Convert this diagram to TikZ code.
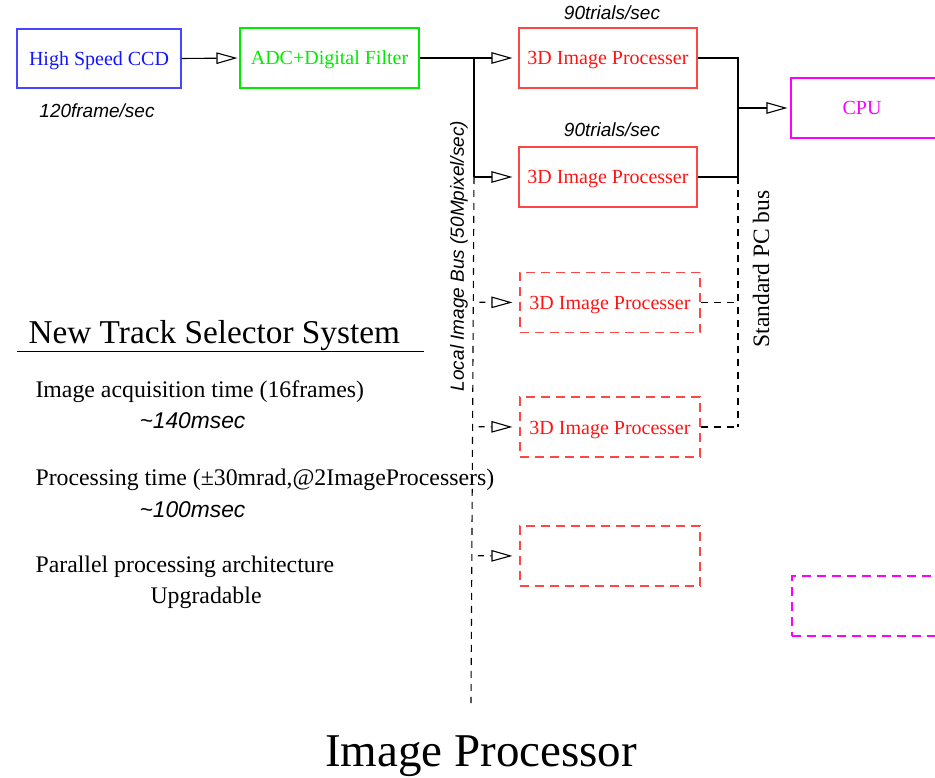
\documentclass[tikz,border=0pt]{standalone}
\usepackage{fontspec}
\setmainfont{Liberation Serif}
\newfontfamily\helv{Liberation Sans}
\usetikzlibrary{arrows.meta,calc}
\newcommand\fsz[1]{\fontsize{#1}{#1}\selectfont}
\definecolor{ccdline}{RGB}{70,70,255}
\definecolor{ccdtext}{RGB}{20,20,255}
\definecolor{adcgreen}{RGB}{0,235,0}
\definecolor{ipline}{RGB}{255,70,70}
\definecolor{iptext}{RGB}{255,20,20}
\definecolor{cpumag}{RGB}{255,0,255}
\begin{document}
\begin{tikzpicture}[x=1pt,y=-1pt,line width=1.1pt,
  unit/.style={draw,inner sep=0pt,minimum height=60pt,text height=14pt,text depth=0pt,font=\fsz{20}},
  ipbox/.style={unit,draw=ipline,text=iptext,minimum width=178pt},
  spare/.style={ipbox,minimum width=180pt,dash pattern=on 9pt off 6pt},
  flow/.style={-{Triangle[open,length=21pt,width=11.5pt]}},
  sparelink/.style={flow,dash pattern=on 6pt off 6pt,dash phase=6pt},
  rate/.style={font=\fsz{19}\helv\itshape},
  note/.style={anchor=base west,inner sep=0pt,font=\fsz{23.8}},
  notetime/.style={anchor=base west,inner sep=0pt,font=\fsz{22.8}\helv\itshape}]
\useasboundingbox (0,0) rectangle (935,778);

% processing chain
\node[unit,draw=ccdline,text=ccdtext,minimum width=164pt,minimum height=59pt] (ccd) at (99,58.5) {High Speed CCD};
\node[unit,draw=adcgreen,text=adcgreen,minimum width=179pt] (adc) at (329.5,58) {ADC+Digital Filter};
\node[ipbox] (ip1) at (608,58) {3D Image Processer};
\node[ipbox] (ip2) at (608,177) {3D Image Processer};
\node[spare] (ip3) at (610,302.5) {3D Image Processer};
\node[spare] (ip4) at (610,427) {3D Image Processer};
\node[spare] (ip5) at (610,556) {};
\node[unit,draw=cpumag,text=cpumag,minimum width=150pt] (cpu) at (866,108) {\hspace*{-8pt}CPU};
\node[unit,draw=cpumag,minimum width=152pt,dash pattern=on 9pt off 6pt] (cpu2) at (868,606) {};

% local image bus
\coordinate (busTop) at (474,58);
\coordinate (busMid) at (474,177);
\coordinate (busEnd) at (471,703);
\draw[flow,shorten >=2pt] (ccd.east) -- (adc.west);
\draw[flow,shorten >=6pt] (adc.east) -- (ip1.west);
\draw (busTop) -- (busMid);
\draw[flow,shorten >=6pt] (busMid) -- (ip2.west);
\draw[dash pattern=on 7pt off 6pt] (busMid) -- (busEnd);
\draw[sparelink,shorten >=7pt] ($(busMid)!(ip3.west)!(busEnd)$) -- (ip3.west);
\draw[sparelink,shorten >=7pt] ($(busMid)!(ip4.west)!(busEnd)$) -- (ip4.west);
\draw[sparelink,shorten >=7pt] ($(busMid)!(ip5.west)!(busEnd)$) -- (ip5.west);

% standard PC bus
\coordinate (pc2) at (738,177);
\coordinate (pc4) at (738,427);
\draw (ip1.east) -| (pc2) -- (ip2.east);
\draw[flow,shorten >=3pt] (pc2 |- cpu.west) -- (cpu.west);
\draw[dash pattern=on 7pt off 6pt] (pc2) -- (pc4);
\draw[dash pattern=on 7pt off 6pt] (ip3.east) -- (pc2 |- ip3.east);
\draw[dash pattern=on 7pt off 6pt] (ip4.east) -- (pc4);

% rates and bus names
\node[rate] (ccdrate) at (97,111) {120frame/sec};
\node[rate] (rate1) at (612,13) {90trials/sec};
\node[rate] (rate2) at (612,130) {90trials/sec};
\node[rate,rotate=90] (lbus) at (459,256) {Local Image Bus (50Mpixel/sec)};
\node[font=\fsz{23.5},rotate=90] (pcbus) at (761,269) {Standard PC bus};

% system summary
\node[anchor=base west,inner sep=0pt,font=\fsz{33.3}] (nts) at (28,343) {New Track Selector System};
\coordinate (ulA) at (17,351);
\coordinate (ulB) at (424,351);
\draw[line width=1pt] (ulA) -- (ulB);
\node[note] (acq) at (35,397) {Image acquisition time (16frames)};
\node[notetime] (acqt) at (139,428) {\textasciitilde140msec};
\node[note] (proc) at (35,485) {Processing time (±30mrad,@2ImageProcessers)};
\node[notetime] (proct) at (139,517) {\textasciitilde100msec};
\node[note] (par) at (35,572) {Parallel processing architecture};
\node[note] (upg) at (150,603) {Upgradable};

\node[anchor=base,inner sep=0pt,font=\fsz{47}] (title) at (481,766) {Image Processor};
\end{tikzpicture}
\end{document}
